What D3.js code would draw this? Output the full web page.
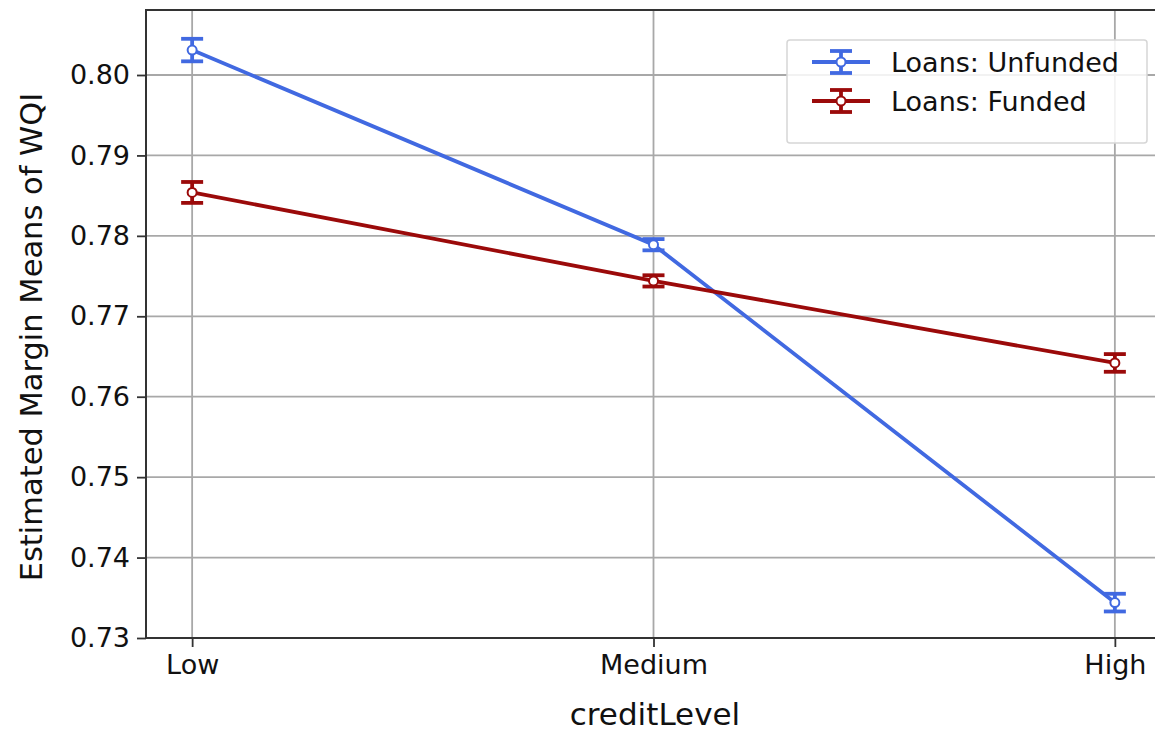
<!DOCTYPE html>
<html>
<head>
<meta charset="utf-8">
<script src="https://cdn.jsdelivr.net/npm/d3@7"></script>
<style>
  html, body { margin: 0; padding: 0; background: #fff; }
  svg { display: block; font-family: "DejaVu Sans", sans-serif; }
</style>
</head>
<body>
<svg id="chart" width="1155" height="734"></svg>
<script>
const categories = ["Low", "Medium", "High"];
const seriesNames = ["Loans: Unfunded", "Loans: Funded"];
const unfundedMeans = [0.8031, 0.7789, 0.7344];
const unfundedErr = [0.0014, 0.0007, 0.0011];
const fundedMeans = [0.7854, 0.7744, 0.7642];
const fundedErr = [0.0013, 0.0007, 0.0011];
const yTicks = [0.73, 0.74, 0.75, 0.76, 0.77, 0.78, 0.79, 0.80];
const colors = ["#4169e1", "#9b0a0a"];

(function () {
const series = [
  { name: seriesNames[0], means: unfundedMeans, err: unfundedErr, color: colors[0] },
  { name: seriesNames[1], means: fundedMeans, err: fundedErr, color: colors[1] }
];

const svg = d3.select("#chart");
const pLeft = 146, pRight = 1161, pTop = 10, pBottom = 638;

const x = d3.scalePoint().domain(categories).range([pLeft, pRight]).padding(0.1);
const y = d3.scaleLinear().domain([0.73, 0.80]).range([pBottom, 75]);

// grid
const g = svg.append("g");
g.selectAll("line.h").data(yTicks).join("line").attr("class", "h")
  .attr("x1", pLeft).attr("x2", pRight)
  .attr("y1", d => y(d)).attr("y2", d => y(d))
  .attr("stroke", "#a8a8a8").attr("stroke-width", 1.8);
g.selectAll("line.v").data(categories).join("line").attr("class", "v")
  .attr("x1", d => x(d)).attr("x2", d => x(d))
  .attr("y1", pTop).attr("y2", pBottom)
  .attr("stroke", "#a8a8a8").attr("stroke-width", 1.8);

// axes
const yAxis = d3.axisLeft(y).tickValues(yTicks).tickFormat(d3.format(".2f")).tickSize(9).tickPadding(7);
const yg = svg.append("g").attr("transform", `translate(${pLeft},0)`).call(yAxis);
yg.select(".domain").remove();
yg.selectAll("line").attr("stroke", "#333").attr("stroke-width", 1.8);
yg.selectAll("text").attr("font-size", 27).attr("fill", "#111").attr("font-family", "DejaVu Sans");

const xAxis = d3.axisBottom(x).tickSize(9).tickPadding(8);
const xg = svg.append("g").attr("transform", `translate(0,${pBottom})`).call(xAxis);
xg.select(".domain").remove();
xg.selectAll("line").attr("stroke", "#333").attr("stroke-width", 1.8);
xg.selectAll("text").attr("font-size", 27).attr("fill", "#111").attr("font-family", "DejaVu Sans");

// spines
svg.append("rect").attr("x", pLeft).attr("y", pTop)
  .attr("width", pRight - pLeft).attr("height", pBottom - pTop)
  .attr("fill", "none").attr("stroke", "#333").attr("stroke-width", 2);

// axis labels
svg.append("text").attr("x", 655).attr("y", 725).attr("text-anchor", "middle")
  .attr("font-size", 31).attr("fill", "#111").text("creditLevel");
svg.append("text").attr("transform", `translate(42,${(pTop + pBottom) / 2 + 13}) rotate(-90)`)
  .attr("text-anchor", "middle").attr("font-size", 30.5).attr("fill", "#111")
  .text("Estimated Margin Means of WQI");

// series
const capW = 11;
series.forEach(s => {
  const sg = svg.append("g");
  const pts = categories.map((c, i) => ({ c, m: s.means[i], e: s.err[i] }));
  sg.append("path").datum(pts)
    .attr("d", d3.line().x(d => x(d.c)).y(d => y(d.m)))
    .attr("fill", "none").attr("stroke", s.color).attr("stroke-width", 3.8);
  pts.forEach(p => {
    const cx = x(p.c);
    sg.append("line").attr("x1", cx).attr("x2", cx)
      .attr("y1", y(p.m + p.e)).attr("y2", y(p.m - p.e))
      .attr("stroke", s.color).attr("stroke-width", 3.8);
    [p.m + p.e, p.m - p.e].forEach(v => {
      sg.append("line").attr("x1", cx - capW).attr("x2", cx + capW)
        .attr("y1", y(v)).attr("y2", y(v))
        .attr("stroke", s.color).attr("stroke-width", 3.8);
    });
    sg.append("circle").attr("cx", cx).attr("cy", y(p.m)).attr("r", 4.5)
      .attr("fill", "#fff").attr("stroke", s.color).attr("stroke-width", 2);
  });
});

// legend
const lg = svg.append("g");
lg.append("rect").attr("x", 787).attr("y", 40).attr("width", 360).attr("height", 103)
  .attr("rx", 3).attr("fill", "rgba(255,255,255,0.85)").attr("stroke", "#d6d6d6").attr("stroke-width", 1.5);
series.forEach((s, i) => {
  const ly = 62 + i * 39;
  const lx1 = 812, lx2 = 870, lc = (lx1 + lx2) / 2;
  lg.append("line").attr("x1", lx1).attr("x2", lx2).attr("y1", ly).attr("y2", ly)
    .attr("stroke", s.color).attr("stroke-width", 3.8);
  lg.append("line").attr("x1", lc).attr("x2", lc).attr("y1", ly - 11).attr("y2", ly + 11)
    .attr("stroke", s.color).attr("stroke-width", 3.8);
  [ly - 11, ly + 11].forEach(v => lg.append("line").attr("x1", lc - 11).attr("x2", lc + 11)
    .attr("y1", v).attr("y2", v).attr("stroke", s.color).attr("stroke-width", 3.8));
  lg.append("circle").attr("cx", lc).attr("cy", ly).attr("r", 4.5)
    .attr("fill", "#fff").attr("stroke", s.color).attr("stroke-width", 2);
  lg.append("text").attr("x", 891).attr("y", ly + 10).attr("font-size", 27).attr("fill", "#111").text(s.name);
});
})();
</script>
</body>
</html>
